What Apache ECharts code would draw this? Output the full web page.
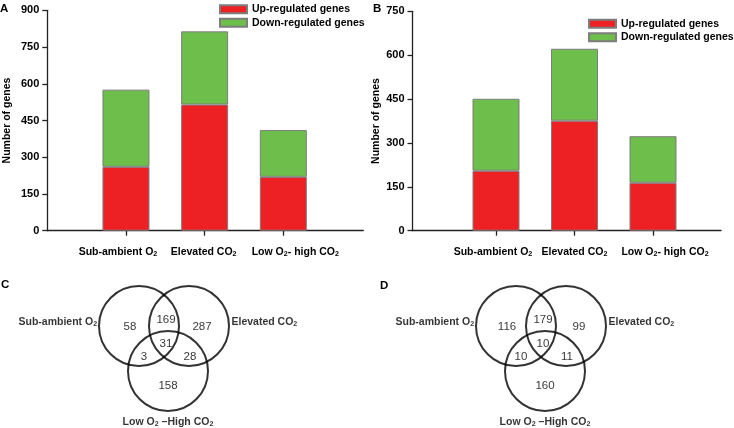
<!DOCTYPE html>
<html><head><meta charset="utf-8">
<script src="https://cdn.jsdelivr.net/npm/echarts@6/dist/echarts.min.js"></script>
<style>html,body{margin:0;padding:0;background:#fff}#c{width:734px;height:428px}</style>
</head><body><div id="c"></div>
<script>
// ---------- DATA ----------
const categories = ['Sub-ambient O2', 'Elevated CO2', 'Low O2- high CO2'];
const seriesNames = ['Up-regulated genes', 'Down-regulated genes'];
const upA = [261, 515, 220];
const downA = [315, 299, 191];
const upB = [205, 376, 164];
const downB = [246, 246, 159];
const yMaxA = 900, yMaxB = 750, yStep = 150;
const vennSets = ['Sub-ambient O2', 'Elevated CO2', 'Low O2 \u2013High CO2'];
const vennRegions = ['A only', 'A+B', 'B only', 'A+B+C', 'A+C', 'B+C', 'C only'];
const vennC = [58, 169, 287, 31, 3, 28, 158];
const vennD = [116, 179, 99, 10, 10, 11, 160];

// ---------- LAYOUT (positions / styles, not data) ----------
const FONT = 'Liberation Sans, Arial, Helvetica, sans-serif';
const RED = '#ED2024', GREEN = '#6DBE4B', EDGE = '#7d7d7d';
const labelShiftA = [-8, -1, 12];
const labelShiftB = [-3, 0, 12];
const vennCircleXY = [[139, 66], [189, 66], [168, 111]];
const vennNumXY = [[130, 67], [166, 60], [202, 67], [166, 84], [144, 97], [190, 97], [168, 126]];
const vennSetXY = [[18, 62, 'right'], [231, 62, 'right'], [168, 162, 'inside']];

function subRich(name, base) {
  const parts = name.split(/(?<=O)2/);
  return parts.map((p, i) => (p ? `{${base}|${p}}` : '') + (i < parts.length - 1 ? `{${base}s|2}` : '')).join('');
}
function richSet(base, size) {
  const r = {};
  r[base] = { fontSize: size, fontWeight: 'bold', color: '#000', fontFamily: FONT };
  r[base + 's'] = { fontSize: size * 0.68, fontWeight: 'bold', color: '#000', fontFamily: FONT, padding: [5, 0, 0, 0] };
  return r;
}
function catLabel(shifts) {
  const rich = richSet('t', 10.5);
  shifts.forEach(s => { const w = Math.abs(s) * 2; if (w) rich['g' + w] = { width: w }; });
  return {
    interval: 0,
    margin: 15,
    formatter: (v, i) => {
      const s = shifts[i], w = Math.abs(s) * 2;
      const txt = subRich(v, 't');
      if (!w) return txt;
      return s > 0 ? `{g${w}| }` + txt : txt + `{g${w}| }`;
    },
    rich
  };
}
const axisLineStyle = { color: '#222', width: 1.3 };

// visible frame axes
function frameX(grid) {
  return {
    gridIndex: grid, type: 'value', min: 0, max: 1,
    axisLine: { show: true, onZero: false, lineStyle: axisLineStyle },
    axisTick: { show: false }, axisLabel: { show: false }, splitLine: { show: false }
  };
}
function frameY(grid, max, gap) {
  return {
    gridIndex: grid, type: 'value', min: 0, max, interval: yStep,
    axisLine: { show: true, lineStyle: axisLineStyle },
    axisTick: { show: true, length: 5, lineStyle: axisLineStyle },
    axisLabel: { color: '#000', fontWeight: 'bold', fontSize: 11, margin: 8, fontFamily: FONT },
    splitLine: { show: false },
    name: 'Number of genes', nameLocation: 'middle', nameGap: gap,
    nameTextStyle: { color: '#000', fontWeight: 'bold', fontSize: 10.5, fontFamily: FONT }
  };
}
// bar axes (category), aligned with the frame
function catX(grid, shifts) {
  return {
    gridIndex: grid, type: 'category', data: categories, boundaryGap: true,
    axisLine: { show: false },
    axisTick: { show: true, alignWithLabel: true, length: 5, lineStyle: axisLineStyle },
    axisLabel: catLabel(shifts), splitLine: { show: false }
  };
}
function hiddenY(grid, max) {
  return { gridIndex: grid, type: 'value', min: 0, max, show: false, splitLine: { show: false } };
}
function hiddenAxis(grid, max, inverse) {
  return { gridIndex: grid, type: 'value', min: 0, max, show: false, inverse: !!inverse, splitLine: { show: false } };
}
function bars(grid, up, down, stack) {
  return [up, down].map((arr, k) => ({
    type: 'bar', name: seriesNames[k], xAxisIndex: grid, yAxisIndex: grid, stack,
    barWidth: 47,
    data: arr,
    itemStyle: { color: k ? GREEN : RED, borderColor: EDGE, borderWidth: 1 },
    emphasis: { disabled: true }
  }));
}
const clear = { color: 'rgba(0,0,0,0)', borderWidth: 0 };
function venn(grid, counts) {
  const setRich = richSet('v', 10.5);
  return [
    {
      type: 'scatter', xAxisIndex: grid, yAxisIndex: grid, symbol: 'circle', symbolSize: 80,
      data: vennCircleXY.map((p, i) => ({ value: [p[0], p[1]], name: vennSets[i] })),
      itemStyle: { color: 'rgba(0,0,0,0)', borderColor: '#000', borderWidth: 2 },
      emphasis: { disabled: true }, silent: true, z: 2
    },
    {
      type: 'scatter', xAxisIndex: grid, yAxisIndex: grid, symbolSize: 1,
      data: counts.map((c, i) => ({ value: [vennNumXY[i][0], vennNumXY[i][1], c], name: vennRegions[i] })),
      label: { show: true, position: 'inside', formatter: p => String(p.value[2]), color: '#000', textBorderWidth: 0, fontSize: 11.5, fontFamily: FONT },
      itemStyle: clear, emphasis: { disabled: true }, silent: true, z: 3
    },
    ...vennSets.map((s, i) => ({
      type: 'scatter', xAxisIndex: grid, yAxisIndex: grid, symbolSize: 1,
      data: [{ value: [vennSetXY[i][0], vennSetXY[i][1]], name: s }],
      label: { show: true, position: vennSetXY[i][2], distance: 0, formatter: () => subRich(s, 'v'), rich: setRich },
      itemStyle: clear, emphasis: { disabled: true }, silent: true, z: 3
    }))
  ];
}

const legendCommon = {
  orient: 'vertical', icon: 'rect', itemWidth: 27, itemHeight: 8, itemGap: 0,
  selectedMode: false,
  textStyle: { color: '#000', fontWeight: 'bold', fontSize: 10.5, fontFamily: FONT, lineHeight: 13.5 },
  data: seriesNames
};
const letter = (t, left, top) => ({ text: t, left, top, padding: 0, textStyle: { fontSize: 11.5, fontWeight: 'bold', color: '#000', fontFamily: FONT } });

const option = {
  animation: false,
  textStyle: { fontFamily: FONT },
  title: [letter('A', 0, 2.5), letter('B', 373, 2.5), letter('C', 1, 279), letter('D', 380, 279.5)],
  legend: [
    Object.assign({ left: 219, top: 2.5, padding: 0 }, legendCommon),
    Object.assign({ left: 588, top: 17, padding: 0 }, legendCommon)
  ],
  grid: [
    { left: 47.3, top: 10.3, width: 316, height: 220.4 },      // 0 frame A
    { left: 412.5, top: 11.3, width: 308.5, height: 219.4 },   // 1 frame B
    { left: 86.65, top: 10.3, width: 236, height: 220.4 },     // 2 bars A
    { left: 456.75, top: 11.3, width: 235.5, height: 219.4 },  // 3 bars B
    { left: 0, top: 260, width: 367, height: 168 },            // 4 venn C
    { left: 377, top: 260, width: 357, height: 168 }           // 5 venn D
  ],
  xAxis: [frameX(0), frameX(1), catX(2, labelShiftA), catX(3, labelShiftB), hiddenAxis(4, 367), hiddenAxis(5, 357)],
  yAxis: [frameY(0, yMaxA, 35), frameY(1, yMaxB, 31), hiddenY(2, yMaxA), hiddenY(3, yMaxB), hiddenAxis(4, 168, true), hiddenAxis(5, 168, true)],
  series: [
    ...bars(2, upA, downA, 'a'),
    ...bars(3, upB, downB, 'b'),
    ...venn(4, vennC),
    ...venn(5, vennD)
  ]
};
echarts.init(document.getElementById('c'), null, { renderer: 'canvas' }).setOption(option);
</script>
</body></html>
